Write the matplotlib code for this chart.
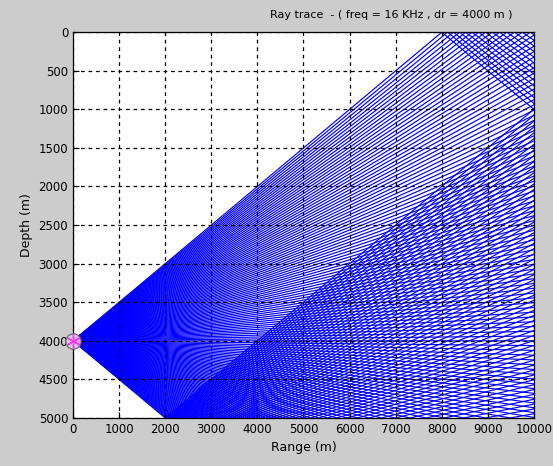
import numpy as np
import matplotlib
matplotlib.use("Agg")
import matplotlib.pyplot as plt

# Scenario parameters
freq_khz = 16
src_range = 0.0       # m
src_depth = 4000.0    # m
water_depth = 5000.0  # m
max_range = 10000.0   # m
max_angle = 26.57     # deg, launch fan half-width
n_rays = 151

x_ticks = [0, 1000, 2000, 3000, 4000, 5000, 6000, 7000, 8000, 9000, 10000]
y_ticks = [0, 500, 1000, 1500, 2000, 2500, 3000, 3500, 4000, 4500, 5000]

# Straight rays, reflected at the surface and the bottom
angles = np.linspace(-max_angle, max_angle, n_rays)
r = np.linspace(src_range, max_range, 4001)


def fold(z, d):
    # mirror an unbounded depth back into [0, d]
    return d - np.abs(np.mod(z, 2 * d) - d)


fig = plt.figure(figsize=(5.53, 4.66), dpi=100, facecolor='#cccccc')
ax = fig.add_axes([0.132, 0.103, 0.8336, 0.828])
ax.set_facecolor('white')

for a in angles:
    z = src_depth - r * np.tan(np.radians(a))
    ax.plot(r, fold(z, water_depth), color='#0000ff', lw=0.85)

# Source
ax.plot(src_range, src_depth, 'o', ms=11, mfc='#e8c8e8', mec='#6a5a6a', mew=0.9,
        alpha=0.9, clip_on=False, zorder=5)
ax.plot(src_range, src_depth, marker=(6, 2, 0), ms=10, color='#ff33ff', mew=1.0,
        clip_on=False, zorder=6)

ax.set_xlim(0, max_range)
ax.set_ylim(water_depth, 0)
ax.set_xticks(x_ticks)
ax.set_yticks(y_ticks)
ax.tick_params(direction='in', labelsize=8.5, length=4)
ax.grid(True, color='black', linestyle=(0, (3, 3)), linewidth=0.9)
ax.set_axisbelow(False)
for s in ax.spines.values():
    s.set_color('black')
    s.set_linewidth(0.9)

ax.set_xlabel('Range (m)', fontsize=9)
ax.set_ylabel('Depth (m)', fontsize=9)
fig.text(0.707, 0.968,
         'Ray trace  - ( freq = %d KHz , dr = %d m )' % (freq_khz, int(src_depth)),
         ha='center', va='center', fontsize=8)

fig.savefig('out.png', dpi=100, facecolor=fig.get_facecolor())
